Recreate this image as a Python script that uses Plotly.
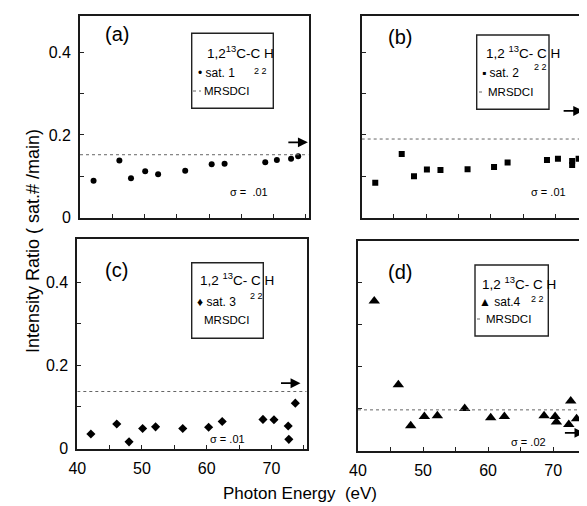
import plotly.graph_objects as go

# the page body adds an 8 px margin, so the figure itself is 8 px smaller
OFF = 8
W, H = 587 - OFF, 506 - OFF

# panel (a): sat. 1
energy_a = [42.1, 46.1, 47.9, 50.1, 52.1, 56.3, 60.4, 62.4, 68.7, 70.5, 72.7, 73.8]
ratio_a = [0.089, 0.138, 0.095, 0.112, 0.105, 0.113, 0.129, 0.130, 0.134, 0.139, 0.142, 0.148]

# panel (b): sat. 2
energy_b = [42.1, 46.2, 48.1, 50.1, 52.2, 56.4, 60.5, 62.6, 68.7, 70.4, 72.6, 72.6, 73.6]
ratio_b = [0.084, 0.154, 0.100, 0.116, 0.115, 0.117, 0.122, 0.133, 0.139, 0.142, 0.137, 0.127, 0.142]

# panel (c): sat. 3
energy_c = [42.1, 46.1, 48.0, 50.1, 52.1, 56.3, 60.3, 62.4, 68.7, 70.4, 72.6, 72.7, 73.7]
ratio_c = [0.035, 0.059, 0.016, 0.048, 0.052, 0.048, 0.051, 0.065, 0.070, 0.069, 0.054, 0.022, 0.109]

# panel (d): sat. 4
energy_d = [42.5, 46.2, 48.1, 50.2, 52.2, 56.4, 60.4, 62.5, 68.6, 70.3, 70.5, 72.4, 72.7, 73.6]
ratio_d = [0.357, 0.157, 0.059, 0.081, 0.083, 0.100, 0.078, 0.081, 0.083, 0.081, 0.068, 0.062, 0.118, 0.076]

mrsdci = [0.152, 0.190, 0.137, 0.097]
arrow_e = [75.3, 74.3, 74.5, 74.8]
arrow_r = [0.182, 0.258, 0.157, 0.042]
sigma_txt = ["σ =  .01", "σ = .01", "σ = .01", "σ = .02"]
sat_names = ["sat. 1", "sat. 2", "sat. 3", "sat.4"]
formulas = ["1,2<sup>13</sup>C-C H", "1,2 <sup>13</sup>C- C H", "1,2 <sup>13</sup>C- C H", "1,2 <sup>13</sup>C- C H"]
panel_tags = ["(a)", "(b)", "(c)", "(d)"]

x_ticks = [40, 45, 50, 55, 60, 65, 70, 75]
x_text = ["40", "", "50", "", "60", "", "70", ""]
y_ticks = [0, 0.1, 0.2, 0.3, 0.4]
y_text = ["0", "", "0.2", "", "0.4"]

SANS = "Liberation Sans, Arial, Helvetica, sans-serif"


def px(x, y):
    # screen pixel -> paper fraction
    return (x - OFF) / W, 1 - (y - OFF) / H


# screen pixel boxes of the four plot areas: (left, right, top, bottom)
panels = [
    dict(box=(80, 308.5, 15.7, 217.5), xr=[40, 75.4], yr=[0, 0.4886], xl=False, yl=True, mirror=True),
    dict(box=(361.7, 587, 15.7, 217.5), xr=[40, 74.9], yr=[0, 0.4886], xl=False, yl=False, mirror=False),
    dict(box=(77.3, 306.7, 239, 448.5), xr=[40, 75.46], yr=[0, 0.5036], xl=True, yl=True, mirror=True),
    dict(box=(358, 587, 240.7, 450.5), xr=[40, 75.2], yr=[0, 0.5007], xl=True, yl=False, mirror=False),
]

series = [(energy_a, ratio_a, "circle", 6),
          (energy_b, ratio_b, "square", 6),
          (energy_c, ratio_c, "diamond", 7),
          (energy_d, ratio_d, "triangle-up", 10)]

fig = go.Figure()
layout = {}
annotations = []
shapes = []

for i, p in enumerate(panels):
    n = "" if i == 0 else str(i + 1)
    xa, ya = "x" + n, "y" + n
    l, r, t, b = p["box"]
    x0, y1 = px(l, t)
    x1, y0 = px(r, b)
    layout["xaxis" + n] = dict(
        domain=[x0, min(x1, 1)], range=p["xr"], anchor=ya, automargin=False,
        showline=True, linecolor="#1a1a1a", linewidth=1.8, mirror=True,
        ticks="inside", ticklen=4, tickcolor="#222", ticklabelstandoff=4,
        tickvals=x_ticks, ticktext=x_text if p["xl"] else [""] * len(x_ticks),
        showgrid=False, zeroline=False,
        tickfont=dict(family=SANS, size=16, color="black"),
    )
    layout["yaxis" + n] = dict(
        domain=[y0, y1], range=p["yr"], anchor=xa, automargin=False,
        showline=True, linecolor="#1a1a1a", linewidth=1.8, mirror=p["mirror"],
        ticks="inside", ticklen=4, tickcolor="#222", ticklabelstandoff=4,
        tickvals=y_ticks, ticktext=y_text if p["yl"] else [""] * len(y_ticks),
        showgrid=False, zeroline=False,
        tickfont=dict(family=SANS, size=16, color="black"),
    )

    ex, ry, sym, sz = series[i]
    fig.add_trace(go.Scatter(x=ex, y=ry, mode="markers", xaxis=xa, yaxis=ya,
                             marker=dict(symbol=sym, size=sz, color="black"),
                             showlegend=False))
    # MRSDCI reference line
    fig.add_trace(go.Scatter(x=[p["xr"][0], p["xr"][1]], y=[mrsdci[i], mrsdci[i]],
                             mode="lines", xaxis=xa, yaxis=ya,
                             line=dict(color="#666", width=1, dash="dot"),
                             showlegend=False))
    # arrow
    annotations.append(dict(x=arrow_e[i], y=arrow_r[i], xref=xa, yref=ya,
                            ax=-21, ay=0, showarrow=True, arrowhead=2,
                            arrowsize=1.1, arrowwidth=1.8, arrowcolor="black", text=""))


def label(x, y, text, size, anchor="center", angle=0):
    xx, yy = px(x, y)
    annotations.append(dict(x=xx, y=yy, xref="paper", yref="paper", text=text,
                            xanchor=anchor, yanchor="middle", textangle=angle,
                            showarrow=False, font=dict(family=SANS, size=size, color="black")))


# panel tags
for tag, (cx, cy) in zip(panel_tags, [(117, 34), (400, 37), (116, 270), (400, 272)]):
    label(cx, cy, tag, 20)

# sigma labels
for s, (cx, cy) in zip(sigma_txt, [(249, 192), (548, 192), (227, 439), (528, 442)]):
    label(cx, cy, s, 11)

# legend boxes
legend_marks = ["•", "▪", "♦", "▲"]
legend_boxes = [
    dict(box=(191.7, 273.3, 33.3, 108.3), f=(205, 52), sub=(260, 71), sat=(196, 73), dot=(193, 201, 91), mr=(202, 91)),
    dict(box=(476.7, 549, 35, 109.3), f=(484, 52), sub=(540, 67), sat=(480, 73), dot=(479, 485, 92), mr=(486, 92)),
    dict(box=(191.7, 263.3, 262.7, 338.3), f=(198, 279), sub=(257, 296), sat=(195, 302), dot=None, mr=(202, 320)),
    dict(box=(475, 548.3, 265, 336), f=(480, 283), sub=(537, 299), sat=(477, 302), dot=(477, 483, 319), mr=(484, 319)),
]
for i, lb in enumerate(legend_boxes):
    l, r, t, b = lb["box"]
    x0, y1 = px(l, t)
    x1, y0 = px(r, b)
    shapes.append(dict(type="rect", xref="paper", yref="paper", x0=x0, x1=x1, y0=y0, y1=y1,
                       line=dict(color="#222", width=1.4), fillcolor="white"))
    label(*lb["f"], formulas[i], 13.5, anchor="left")
    label(*lb["sub"], "2 2", 9)
    label(*lb["sat"], legend_marks[i] + " " + sat_names[i], 12, anchor="left")
    if lb["dot"]:
        dx0, dx1, dy = lb["dot"]
        a0, b0 = px(dx0, dy)
        a1, _ = px(dx1, dy)
        shapes.append(dict(type="line", xref="paper", yref="paper", x0=a0, x1=a1, y0=b0, y1=b0,
                           line=dict(color="#666", width=1, dash="dot")))
    label(*lb["mr"], "MRSDCI", 11.5, anchor="left")

# axis titles
label(33, 241, "Intensity Ratio ( sat.# /main)", 18, angle=-90)
label(300, 493, "Photon Energy  (eV)", 17)

fig.update_layout(
    width=W, height=H,
    margin=dict(l=0, r=0, t=0, b=0, autoexpand=False),
    paper_bgcolor="white", plot_bgcolor="white",
    showlegend=False,
    annotations=annotations, shapes=shapes,
    **layout,
)

fig.write_html("out.html")
